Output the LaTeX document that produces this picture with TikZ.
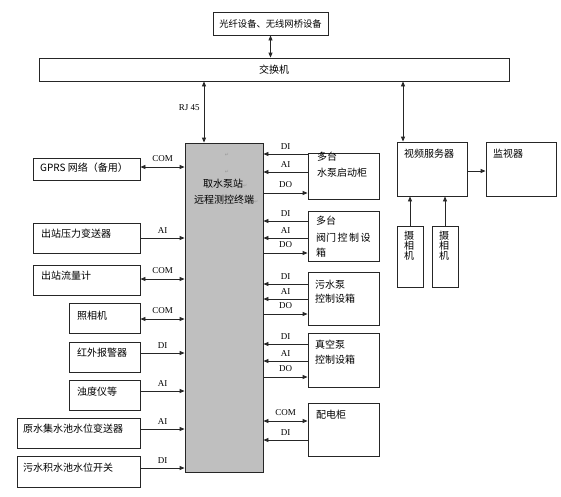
\documentclass[tikz,border=0pt]{standalone}
\usepackage{fontspec}
\setmainfont{Liberation Serif}
\newfontfamily\cjk{Noto Sans CJK SC}
\newfontfamily\symf{DejaVu Sans}
\usetikzlibrary{arrows.meta}
\newcommand{\pmark}{{\symf\fontsize{5}{6}\selectfont\color{black!40}↵}}
\begin{document}
\begin{tikzpicture}[x=1pt,y=-1pt,
  box/.style={draw=black!85, line width=0.85pt, inner sep=0pt, fill=white},
  corebox/.style={box, fill=black!25},
  txt/.style={inner sep=0pt, anchor=west, font=\cjk\fontsize{10}{12}\selectfont, text=black},
  ctxt/.style={inner sep=0pt, font=\cjk\fontsize{10}{12}\selectfont, text=black},
  lbl/.style={inner sep=1pt, font=\fontsize{9}{10}\selectfont, text=black},
  conn/.style={draw=black!85, line width=0.85pt},
  arr/.style={conn, -{Triangle[length=5pt,width=4pt]}},
  darr/.style={conn, {Triangle[length=5pt,width=4pt]}-{Triangle[length=5pt,width=4pt]}}
]
\useasboundingbox (0,0) rectangle (561,496);
\fill[white] (0,0) rectangle (561,496);

% top
\node[box, minimum width=115pt, minimum height=23pt, font=\cjk\fontsize{9.3}{11}\selectfont] (fiber) at (270.5,23.5) {光纤设备、无线网桥设备};
\node[box, minimum width=470pt, minimum height=23pt, font=\cjk\fontsize{10}{12}\selectfont] (switch) at (274,69.5) {交换机};

% core
\node[corebox, minimum width=78pt, minimum height=329pt] (core) at (224,307.5) {};
\node[inner sep=0pt] (cm1) at (227,155) {\pmark};
\node[inner sep=0pt] (cm2) at (227,172) {\pmark};
\node[ctxt] (ct1) at (223,184) {取水泵站\rlap{\pmark}};
\node[ctxt] (ct2) at (224,200) {远程测控终端\rlap{\pmark}};

% left boxes
\node[box, minimum width=107pt, minimum height=22pt] (gprs) at (86.5,169) {};
\node[txt] (gprst) at (40,168) {GPRS 网络（备用）};
\node[box, minimum width=107pt, minimum height=30pt] (pres) at (86.5,238) {};
\node[txt] (prest) at (41,234) {出站压力变送器};
\node[box, minimum width=107pt, minimum height=30pt] (flow) at (86.5,280) {};
\node[txt] (flowt) at (41,276) {出站流量计};
\node[box, minimum width=71pt, minimum height=30pt] (cam) at (104.5,318) {};
\node[txt] (camt) at (77,316) {照相机};
\node[box, minimum width=71pt, minimum height=30pt] (ir) at (104.5,357) {};
\node[txt] (irt) at (77,353) {红外报警器};
\node[box, minimum width=71pt, minimum height=30pt] (turb) at (104.5,395) {};
\node[txt] (turbt) at (77,392) {浊度仪等};
\node[box, minimum width=123pt, minimum height=30pt] (raw) at (78.5,433) {};
\node[txt] (rawt) at (23,429) {原水集水池水位变送器};
\node[box, minimum width=123pt, minimum height=31pt] (sew) at (78.5,471.5) {};
\node[txt] (sewt) at (23,468) {污水积水池水位开关};

% right boxes
\node[box, minimum width=71pt, minimum height=46pt] (pump) at (343.5,176) {};
\node[txt] (pumpt1) at (317,157) {多台};
\node[txt] (pumpt2) at (317,173) {水泵启动柜};
\node[box, minimum width=71pt, minimum height=50pt] (valve) at (343.5,236) {};
\node[txt] (valvet1) at (316,221) {多台};
\node[txt] (valvet2) at (316,238) {阀门\hspace{1.5pt}控\hspace{1.5pt}制\hspace{1.5pt}设};
\node[txt] (valvet3) at (316,253) {箱};
\node[box, minimum width=71pt, minimum height=53pt] (spump) at (343.5,298.5) {};
\node[txt] (spumpt1) at (315,285) {污水泵};
\node[txt] (spumpt2) at (315,299) {控制设箱};
\node[box, minimum width=71pt, minimum height=54pt] (vac) at (343.5,360) {};
\node[txt] (vact1) at (315,345) {真空泵};
\node[txt] (vact2) at (315,360) {控制设箱};
\node[box, minimum width=71pt, minimum height=53pt] (dist) at (343.5,429.5) {};
\node[txt] (distt) at (316,415) {配电柜};

% video
\node[box, minimum width=70pt, minimum height=54pt] (vs) at (432,169) {};
\node[txt] (vst) at (404,154) {视频服务器};
\node[box, minimum width=70pt, minimum height=54pt] (mon) at (521,169) {};
\node[txt] (mont) at (493,154) {监视器};
\node[box, minimum width=26pt, minimum height=61pt] (c1) at (410,256.5) {};
\node[ctxt, align=center, font=\cjk\fontsize{10}{10}\selectfont] (c1t) at (409,246) {摄\\相\\机};
\node[box, minimum width=26pt, minimum height=61pt] (c2) at (445,256.5) {};
\node[ctxt, align=center, font=\cjk\fontsize{10}{10}\selectfont] (c2t) at (444,246) {摄\\相\\机};

% top connectors
\draw[darr] (fiber.south) -- (fiber.south |- switch.north);
\draw[darr] (switch.south -| 204,0) -- (core.north -| 204,0) node[pos=0.42, left=3pt, lbl] {RJ 45};
\draw[darr] (switch.south -| 403,0) -- (vs.north -| 403,0);

% left connectors
\draw[darr] (gprs.east |- 0,167) -- (core.west |- 0,167) node[midway, above=3.5pt, lbl] {COM};
\draw[arr] (pres.east |- 0,238) -- (core.west |- 0,238) node[midway, above=3.5pt, lbl] {AI};
\draw[darr] (flow.east |- 0,279) -- (core.west |- 0,279) node[midway, above=3.5pt, lbl] {COM};
\draw[darr] (cam.east |- 0,319) -- (core.west |- 0,319) node[midway, above=3.5pt, lbl] {COM};
\draw[arr] (ir.east |- 0,353) -- (core.west |- 0,353) node[midway, above=3.5pt, lbl] {DI};
\draw[arr] (turb.east |- 0,391) -- (core.west |- 0,391) node[midway, above=3.5pt, lbl] {AI};
\draw[arr] (raw.east |- 0,429) -- (core.west |- 0,429) node[midway, above=3.5pt, lbl] {AI};
\draw[arr] (sew.east |- 0,468) -- (core.west |- 0,468) node[midway, above=3.5pt, lbl] {DI};

% right connectors
\draw[arr] (pump.west |- 0,154) -- (core.east |- 0,154) node[midway, above=3.5pt, lbl] {DI};
\draw[arr] (pump.west |- 0,172) -- (core.east |- 0,172) node[midway, above=3.5pt, lbl] {AI};
\draw[arr] (core.east |- 0,193) -- (pump.west |- 0,193) node[midway, above=3.5pt, lbl] {DO};

\draw[arr] (valve.west |- 0,221) -- (core.east |- 0,221) node[midway, above=3.5pt, lbl] {DI};
\draw[arr] (valve.west |- 0,238) -- (core.east |- 0,238) node[midway, above=3.5pt, lbl] {AI};
\draw[arr] (core.east |- 0,253) -- (valve.west |- 0,253) node[midway, above=3.5pt, lbl] {DO};

\draw[arr] (spump.west |- 0,284) -- (core.east |- 0,284) node[midway, above=3.5pt, lbl] {DI};
\draw[arr] (spump.west |- 0,299) -- (core.east |- 0,299) node[midway, above=3.5pt, lbl] {AI};
\draw[arr] (core.east |- 0,314) -- (spump.west |- 0,314) node[midway, above=3.5pt, lbl] {DO};

\draw[arr] (vac.west |- 0,344) -- (core.east |- 0,344) node[midway, above=3.5pt, lbl] {DI};
\draw[arr] (vac.west |- 0,361) -- (core.east |- 0,361) node[midway, above=3.5pt, lbl] {AI};
\draw[arr] (core.east |- 0,377) -- (vac.west |- 0,377) node[midway, above=3.5pt, lbl] {DO};

\draw[darr] (core.east |- 0,421) -- (dist.west |- 0,421) node[midway, above=3.5pt, lbl] {COM};
\draw[arr] (dist.west |- 0,440) -- (core.east |- 0,440) node[midway, above=3.5pt, lbl] {DI};

% video connectors
\draw[arr] (vs.east |- 0,171) -- (mon.west |- 0,171);
\draw[arr] (c1.north) -- (c1.north |- vs.south);
\draw[arr] (c2.north) -- (c2.north |- vs.south);
\end{tikzpicture}
\end{document}
